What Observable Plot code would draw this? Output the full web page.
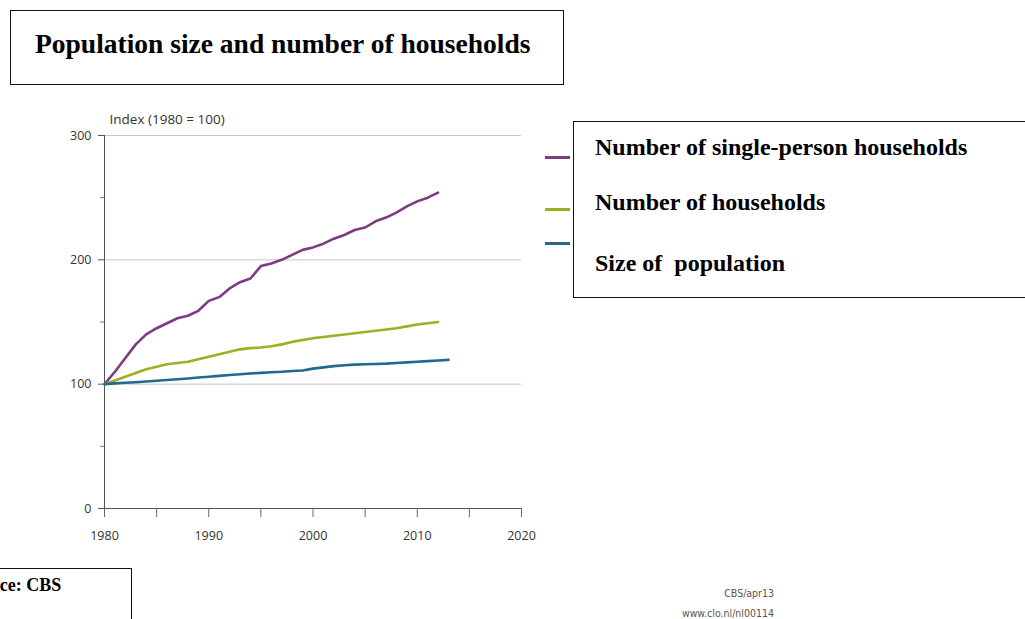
<!DOCTYPE html>
<html>
<head>
<meta charset="utf-8">
<script src="https://cdn.jsdelivr.net/npm/d3@7"></script>
<script src="https://cdn.jsdelivr.net/npm/@observablehq/plot@0.6"></script>
<style>
  html, body { margin: 0; padding: 0; background: #fff; }
  #page { position: relative; width: 1025px; height: 619px; overflow: hidden; background: #fff; }
  .box { position: absolute; border: 1.5px solid #111; box-sizing: border-box; background: #fff; }
  .serif { font-family: "Liberation Serif", "Times New Roman", serif; font-weight: bold; color: #000; }
  #title { left: 10px; top: 10px; width: 554px; height: 75px; }
  #title span { position: absolute; left: 24px; top: 17px; font-size: 27.5px; white-space: nowrap; }
  #legend { left: 573px; top: 121px; width: 460px; height: 177px; }
  .lg { position: absolute; left: 21px; font-size: 24px; white-space: pre; }
  .sw { position: absolute; left: 545px; width: 25px; height: 3px; }
  #source { left: -40px; top: 568px; width: 172px; height: 70px; }
  #source span { position: absolute; left: 2px; top: 6px; font-size: 18px; white-space: nowrap; }
  .note { position: absolute; right: 251px; font-family: "DejaVu Sans Condensed", "Open Sans", sans-serif; font-size: 10.5px; color: #555; text-align: right; white-space: nowrap; }
  #chart { position: absolute; left: 0; top: 90px; }
</style>
</head>
<body>
<div id="page">
  <div id="chart"></div>
  <div class="box" id="title"><span class="serif">Population size and number of households</span></div>
  <div class="sw" id="sw0" style="top:156px"></div>
  <div class="sw" id="sw1" style="top:208px"></div>
  <div class="sw" id="sw2" style="top:242px"></div>
  <div class="box" id="legend">
    <span class="lg serif" id="lg0" style="top:12px"></span>
    <span class="lg serif" id="lg1" style="top:67px"></span>
    <span class="lg serif" id="lg2" style="top:128px"></span>
  </div>
  <div class="box" id="source"><span class="serif">Source: CBS</span></div>
  <div class="note" style="top:587px">CBS/apr13</div>
  <div class="note" style="top:607px">www.clo.nl/nl00114</div>
</div>
<script>
// ---- data ----
const seriesNames = ["Number of single-person households", "Number of households", "Size of  population"];
const seriesColors = ["#7d3b80", "#9cb023", "#22698f"];
const years = [1980,1981,1982,1983,1984,1985,1986,1987,1988,1989,1990,1991,1992,1993,1994,1995,1996,1997,1998,1999,2000,2001,2002,2003,2004,2005,2006,2007,2008,2009,2010,2011,2012,2013];
const singlePerson = [100,110,121,132,140,145,149,153,155,159,167,170,177,182,185,195,197,200,204,208,210,213,217,220,224,226,231,234,238,243,247,250,254];
const households = [100,103,106,109,112,114,116,117,118,120,122,124,126,128,129,129.5,130.5,132,134,135.5,137,138,139,140,141,142,143,144,145,146.5,148,149,150];
const population = [100,100.6,101.1,101.6,102.2,102.8,103.4,104.0,104.6,105.3,106.0,106.7,107.4,108.0,108.6,109.1,109.6,110.0,110.6,111.0,112.5,113.5,114.5,115.2,115.7,116.0,116.2,116.5,117.0,117.5,118.0,118.5,119.0,119.5];
const yMajor = [0, 100, 200, 300];
const yMinor = [50, 150, 250];
const xTicks = [1980, 1985, 1990, 1995, 2000, 2005, 2010, 2015, 2020];
const xLabels = [1980, 1990, 2000, 2010, 2020];
const yTitle = "Index (1980 = 100)";

const table = [];
[singlePerson, households, population].forEach((vals, i) => {
  vals.forEach((v, j) => table.push({year: years[j], value: v, series: seriesNames[i]}));
});

// legend
seriesNames.forEach((n, i) => {
  document.getElementById("lg" + i).textContent = n;
  document.getElementById("sw" + i).style.background = seriesColors[i];
});

const axisFont = {fontFamily: "'Open Sans', sans-serif", fontSize: 12.5, fill: "#333"};

const chart = Plot.plot({
  width: 560,
  height: 460,
  marginLeft: 104,
  marginRight: 39,
  marginTop: 45,
  marginBottom: 42,
  style: {fontFamily: "'Open Sans', sans-serif", fontSize: "12px", color: "#333", background: "transparent"},
  x: {domain: [1980, 2020], axis: null},
  y: {domain: [0, 300], axis: null},
  color: {domain: seriesNames, range: seriesColors},
  marks: [
    Plot.gridY([100, 200, 300], {stroke: "#c8c8c8", strokeOpacity: 1, strokeWidth: 1}),
    Plot.ruleY([0], {stroke: "#555"}),
    Plot.ruleX([1980], {stroke: "#555"}),
    Plot.axisY(yMajor, {tickSize: 6, tickPadding: 7, stroke: "#555", label: null, ...axisFont}),
    Plot.axisY(yMinor, {tickSize: 4, text: null, stroke: "#777", label: null}),
    Plot.axisX(xTicks, {tickSize: 9, text: null, stroke: "#666", label: null}),
    Plot.axisX(xLabels, {tickSize: 0, tickPadding: 23, tickFormat: d => String(d), label: null, ...axisFont}),
    Plot.text([yTitle], {frameAnchor: "top-left", dx: 5, dy: -21, text: d => d, ...axisFont, fontSize: 13.5, textAnchor: "start"}),
    Plot.line(table, {x: "year", y: "value", z: "series", stroke: "series", strokeWidth: 2.6, curve: "linear"})
  ]
});
document.getElementById("chart").appendChild(chart);
</script>
</body>
</html>
